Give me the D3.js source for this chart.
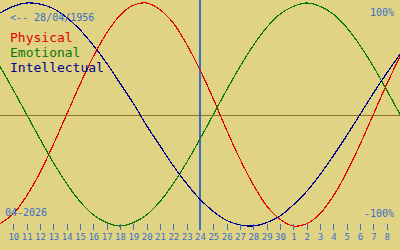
<!DOCTYPE html>
<html>
<head>
<meta charset="utf-8">
<script src="https://cdn.jsdelivr.net/npm/d3@7"></script>
<style>
  body { margin: 0; background: #e1d384; }
  svg { display: block; font-family: "DejaVu Sans Mono", monospace; }
</style>
</head>
<body>
<div id="wrapper"></div>
<script>
// days shown on the axis (10 April .. 8 May 2026)
const tickLabels = ["10","11","12","13","14","15","16","17","18","19","20","21","22","23",
    "24","25","26","27","28","29","30","1","2","3","4","5","6","7","8"];

// one value per day, from 9 April (index -1) to 9 May (index 29)
const physical = [-0.98,-0.89,-0.73,-0.52,-0.27,0,0.27,0.52,0.73,0.89,0.98,1.00,0.94,0.82,0.63,0.40,
    0.14,-0.14,-0.40,-0.63,-0.82,-0.94,-1.00,-0.98,-0.89,-0.73,-0.52,-0.27,0,0.27,0.52];
const emotional = [0.43,0.22,0,-0.22,-0.43,-0.62,-0.78,-0.90,-0.97,-1.00,-0.97,-0.90,-0.78,-0.62,-0.43,
    -0.22,0,0.22,0.43,0.62,0.78,0.90,0.97,1.00,0.97,0.90,0.78,0.62,0.43,0.22,0];
const intellectual = [0.91,0.97,1.00,0.99,0.95,0.87,0.76,0.62,0.46,0.28,0.10,-0.10,-0.28,-0.46,-0.62,
    -0.76,-0.87,-0.95,-0.99,-1.00,-0.97,-0.91,-0.81,-0.69,-0.54,-0.37,-0.19,0,0.19,0.37,0.54];

const series = [
    {name: "Physical", values: physical, color: "#e00000"},
    {name: "Emotional", values: emotional, color: "#087808"},
    {name: "Intellectual", values: intellectual, color: "#000090"}
];
const todayIndex = 14;   // 24 April
const birthLabel = "<-- 28/04/1956";
const monthLabel = "04-2026";

const width = 400, height = 250;
const textColor = "#3a6fc8";

const svg = d3.select("#wrapper").append("svg")
    .attr("width", width)
    .attr("height", height);

svg.append("rect")
    .attr("width", width).attr("height", height)
    .attr("fill", "#e1d384");

const xScaler = d3.scaleLinear().domain([-1, 29]).range([0, width]);
const yScaler = d3.scaleLinear().domain([-1, 1]).range([226, 3]);

// zero line
svg.append("line")
    .attr("x1", 0).attr("x2", width)
    .attr("y1", Math.round(yScaler(0)) + 0.5).attr("y2", Math.round(yScaler(0)) + 0.5)
    .attr("stroke", "#8c7426")
    .attr("shape-rendering", "crispEdges");

// today
svg.append("line")
    .attr("x1", xScaler(todayIndex)).attr("x2", xScaler(todayIndex))
    .attr("y1", 0).attr("y2", 230)
    .attr("stroke", textColor)
    .attr("stroke-width", 2)
    .attr("shape-rendering", "crispEdges");

const lineGenerator = d3.line()
    .x((d, i) => xScaler(i - 1))
    .y(d => yScaler(d))
    .curve(d3.curveCatmullRom);

series.forEach(s => {
    svg.append("path")
        .attr("d", lineGenerator(s.values))
        .attr("fill", "none")
        .attr("stroke", s.color)
        .attr("stroke-width", 1.2)
        .attr("shape-rendering", "crispEdges");
});

// x axis
const xAxis = d3.axisBottom(xScaler)
    .tickValues(d3.range(tickLabels.length))
    .tickFormat(i => tickLabels[i])
    .tickSize(6)
    .tickPadding(4);

const axisG = svg.append("g")
    .attr("transform", "translate(0,224)")
    .call(xAxis);
axisG.select(".domain").remove();
axisG.selectAll(".tick line")
    .attr("stroke", textColor)
    .attr("shape-rendering", "crispEdges");
axisG.selectAll(".tick text")
    .attr("fill", textColor)
    .style("font-family", "DejaVu Sans Mono, monospace")
    .style("font-size", "9px");

// labels
svg.append("text")
    .attr("x", 10).attr("y", 21)
    .attr("fill", textColor)
    .style("font-size", "10px")
    .text(birthLabel);

svg.append("text")
    .attr("x", 394).attr("y", 16)
    .attr("text-anchor", "end")
    .attr("fill", textColor)
    .style("font-size", "10px")
    .text("100%");

svg.append("text")
    .attr("x", 394).attr("y", 217)
    .attr("text-anchor", "end")
    .attr("fill", textColor)
    .style("font-size", "10px")
    .text("-100%");

svg.append("text")
    .attr("x", 5).attr("y", 216)
    .attr("fill", textColor)
    .style("font-size", "10px")
    .text(monthLabel);

// legend
svg.selectAll(".legend")
    .data(series)
    .enter().append("text")
    .attr("class", "legend")
    .attr("x", 10)
    .attr("y", (d, i) => 42 + i * 15)
    .attr("fill", d => d.color)
    .style("font-size", "13px")
    .text(d => d.name);
</script>
</body>
</html>
